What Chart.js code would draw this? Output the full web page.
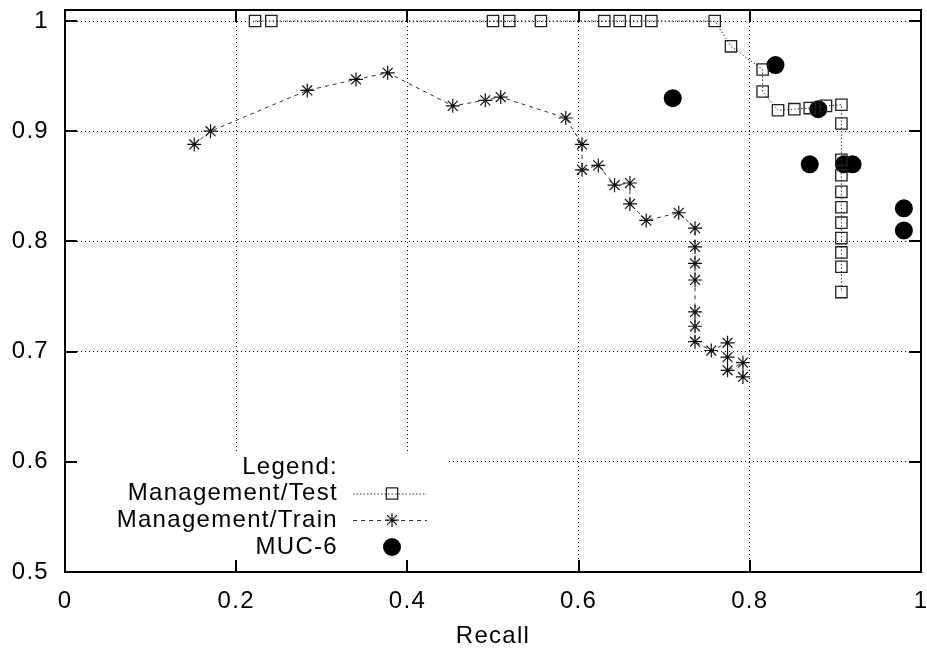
<!DOCTYPE html>
<html>
<head>
<meta charset="utf-8">
<script src="https://cdn.jsdelivr.net/npm/chart.js@4.4.1/dist/chart.umd.min.js"></script>
<style>
  body { margin: 0; background: #fff; }
</style>
</head>
<body>
<canvas id="prChart" width="927" height="652"></canvas>
<script>
// Management/Test
const testRecall = [0.222, 0.241, 0.500, 0.519, 0.556, 0.630, 0.648, 0.667, 0.685, 0.759,
  0.778, 0.815, 0.815, 0.833, 0.852, 0.870, 0.889,
  0.907, 0.907, 0.907, 0.907, 0.907, 0.907, 0.907, 0.907, 0.907, 0.907, 0.907];
const testPrecision = [1, 1, 1, 1, 1, 1, 1, 1, 1, 1,
  0.977, 0.956, 0.936, 0.919, 0.920, 0.921, 0.923,
  0.924, 0.907, 0.874, 0.860, 0.845, 0.831, 0.817, 0.803, 0.790, 0.777, 0.754];

// Management/Train
const trainRecall = [0.151, 0.170, 0.283, 0.340, 0.377, 0.453, 0.491, 0.509, 0.585, 0.604,
  0.604, 0.623, 0.642, 0.660, 0.660, 0.679, 0.717, 0.736, 0.736, 0.736,
  0.736, 0.736, 0.736, 0.736, 0.755, 0.774, 0.774, 0.774, 0.792, 0.792];
const trainPrecision = [0.888, 0.900, 0.937, 0.947, 0.953, 0.923, 0.928, 0.931, 0.912, 0.888,
  0.865, 0.869, 0.851, 0.853, 0.834, 0.819, 0.826, 0.812, 0.795, 0.780,
  0.765, 0.736, 0.723, 0.709, 0.701, 0.708, 0.695, 0.683, 0.690, 0.677];

// MUC-6
const mucRecall = [0.71, 0.83, 0.88, 0.87, 0.91, 0.92, 0.98, 0.98];
const mucPrecision = [0.93, 0.96, 0.92, 0.87, 0.87, 0.87, 0.83, 0.81];

const xTicks = [0, 0.2, 0.4, 0.6, 0.8, 1];
const yTicks = [0.5, 0.6, 0.7, 0.8, 0.9, 1];
const xTitle = "Recall";
const legendTitle = "Legend:";

const FONT = "'Liberation Sans', Arial, sans-serif";
const FONT_SIZE = 24;

function toPoints(xs, ys) {
  return xs.map((x, i) => ({ x: x, y: ys[i] }));
}

function fmt(v) {
  return String(+Number(v).toFixed(2));
}

// keep the plot box where gnuplot had it, labels may overhang
function noPadding(s) {
  s.paddingLeft = 0;
  s.paddingRight = 0;
  s.paddingTop = 0;
  s.paddingBottom = 0;
}

// gnuplot style frame, inward ticks and the boxed key
const framePlugin = {
  id: "frame",
  beforeDraw(chart) {
    // the original text is a bit wider than Liberation Sans
    chart.ctx.letterSpacing = "1.3px";
  },
  beforeDatasetsDraw(chart) {
    const ctx = chart.ctx;
    ctx.save();
    ctx.fillStyle = "#fff";
    ctx.fillRect(66, 453, 381, 118);
    ctx.restore();
  },
  afterDraw(chart) {
    const ctx = chart.ctx;
    const a = chart.chartArea;
    const xs = chart.scales.x, ys = chart.scales.y;
    ctx.save();
    ctx.strokeStyle = "#000";
    ctx.lineWidth = 2;
    ctx.setLineDash([]);
    ctx.strokeRect(a.left, a.top, a.right - a.left, a.bottom - a.top);
    ctx.beginPath();
    xTicks.forEach(v => {
      const px = Math.round(xs.getPixelForValue(v));
      ctx.moveTo(px, a.bottom); ctx.lineTo(px, a.bottom - 12);
      ctx.moveTo(px, a.top); ctx.lineTo(px, a.top + 12);
    });
    yTicks.forEach(v => {
      const py = Math.round(ys.getPixelForValue(v));
      ctx.moveTo(a.left, py); ctx.lineTo(a.left + 12, py);
      ctx.moveTo(a.right, py); ctx.lineTo(a.right - 12, py);
    });
    ctx.stroke();

    // key
    ctx.font = FONT_SIZE + "px " + FONT;
    ctx.fillStyle = "#000";
    ctx.textAlign = "right";
    ctx.textBaseline = "middle";
    const tx = 338, sx1 = 353, sx2 = 427, mx = 392;
    ctx.fillText(legendTitle, tx, 467);
    const rows = [467 + 26.5, 467 + 53, 467 + 80];
    chart.data.datasets.forEach((ds, i) => {
      const y = rows[i];
      ctx.fillStyle = "#000";
      ctx.fillText(ds.label, tx, y);
      if (ds.showLine) {
        ctx.save();
        ctx.strokeStyle = ds.borderColor;
        ctx.lineWidth = ds.borderWidth;
        ctx.setLineDash(ds.borderDash);
        ctx.beginPath();
        ctx.moveTo(sx1, y + 0.5); ctx.lineTo(sx2, y + 0.5);
        ctx.stroke();
        ctx.restore();
      }
      ctx.save();
      ctx.strokeStyle = ds.pointBorderColor;
      ctx.fillStyle = ds.pointBackgroundColor;
      ctx.lineWidth = ds.pointBorderWidth;
      ctx.setLineDash([]);
      Chart.helpers.drawPoint(ctx, {
        pointStyle: ds.pointStyle,
        radius: ds.pointRadius,
        rotation: 0,
        borderWidth: ds.pointBorderWidth
      }, mx, y);
      ctx.restore();
    });
    ctx.restore();
  }
};

new Chart(document.getElementById("prChart"), {
  type: "scatter",
  data: {
    datasets: [
      {
        label: "Management/Test",
        data: toPoints(testRecall, testPrecision),
        showLine: true,
        borderColor: "#333",
        borderWidth: 1,
        borderDash: [1.5, 2],
        pointStyle: "rect",
        pointRadius: 8,
        pointBorderColor: "#222",
        pointBackgroundColor: "rgba(0,0,0,0)",
        pointBorderWidth: 1.3
      },
      {
        label: "Management/Train",
        data: toPoints(trainRecall, trainPrecision),
        showLine: true,
        borderColor: "#333",
        borderWidth: 1,
        borderDash: [4, 4],
        pointStyle: "star",
        pointRadius: 7,
        pointBorderColor: "#111",
        pointBackgroundColor: "#111",
        pointBorderWidth: 1.2
      },
      {
        label: "MUC-6",
        data: toPoints(mucRecall, mucPrecision),
        showLine: false,
        borderColor: "#000",
        borderWidth: 0,
        borderDash: [],
        pointStyle: "circle",
        pointRadius: 9,
        pointBorderColor: "#000",
        pointBackgroundColor: "#000",
        pointBorderWidth: 0
      }
    ]
  },
  options: {
    responsive: false,
    animation: false,
    layout: { autoPadding: false, padding: { top: 10, right: 6, left: 0, bottom: 0 } },
    plugins: {
      legend: { display: false },
      tooltip: { enabled: false }
    },
    scales: {
      x: {
        type: "linear",
        min: 0,
        max: 1,
        afterFit: s => { s.height = 80; noPadding(s); },
        afterBuildTicks: s => { s.ticks = xTicks.map(v => ({ value: v })); },
        ticks: {
          padding: 15,
          color: "#000",
          font: { family: FONT, size: FONT_SIZE },
          callback: fmt,
          maxRotation: 0
        },
        grid: { color: "#000", lineWidth: 1, drawTicks: false },
        border: { display: false, dash: [1, 3] },
        title: {
          display: true,
          text: xTitle,
          color: "#000",
          font: { family: FONT, size: FONT_SIZE },
          padding: { top: 0, bottom: 1 }
        }
      },
      y: {
        type: "linear",
        min: 0.5,
        max: 1.01,
        afterFit: s => { s.width = 65; noPadding(s); },
        afterBuildTicks: s => { s.ticks = yTicks.map(v => ({ value: v })); },
        ticks: {
          padding: 16,
          color: "#000",
          font: { family: FONT, size: FONT_SIZE },
          callback: fmt
        },
        grid: { color: "#000", lineWidth: 1, drawTicks: false },
        border: { display: false, dash: [1, 3] }
      }
    }
  },
  plugins: [framePlugin]
});
</script>
</body>
</html>
